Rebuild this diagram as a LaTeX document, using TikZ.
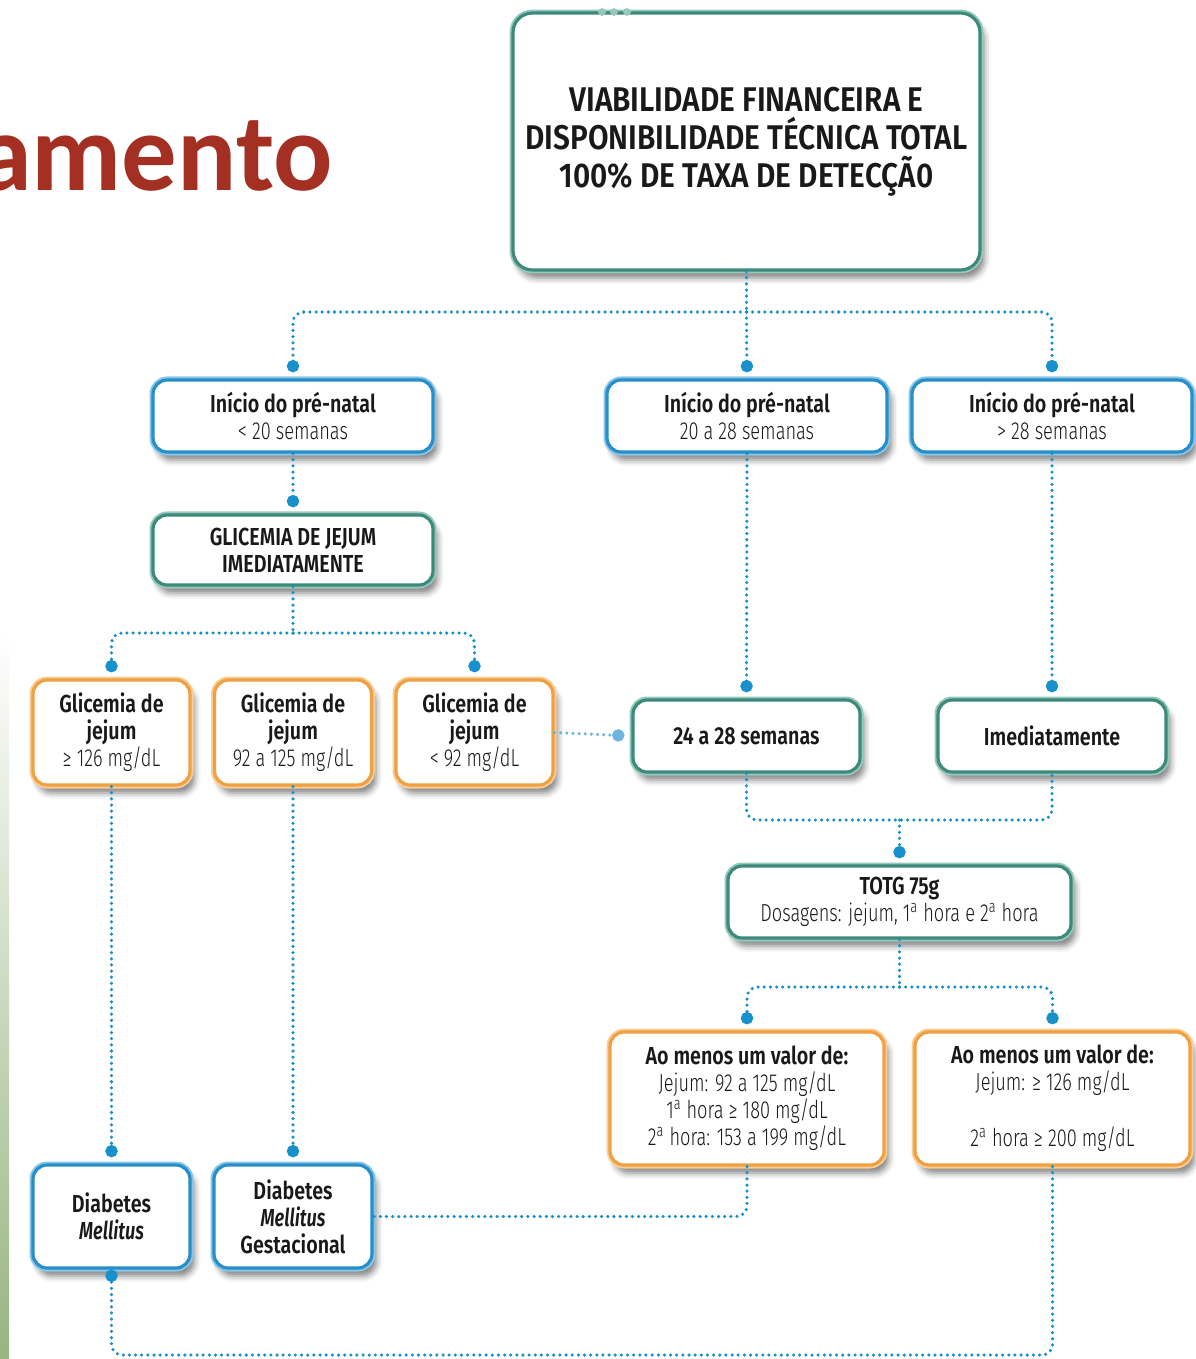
\documentclass[tikz,border=0pt]{standalone}
\usepackage{fontspec}
\IfFontExistsTF{Fira Sans SemiBold}
  {\setmainfont[UprightFont={Fira Sans Light}, BoldFont={Fira Sans SemiBold}, ItalicFont={Fira Sans Light Italic},
     BoldItalicFont={Fira Sans SemiBold Italic}, FakeStretch=0.74, BoldFeatures={FakeStretch=0.8}]{Fira Sans}
   \newfontfamily\headfont[BoldFont={Fira Sans SemiBold}, BoldFeatures={FakeStretch=0.87}]{Fira Sans}}
  {\setmainfont[FakeStretch=0.73, BoldFeatures={FakeStretch=0.78}]{Fira Sans}
   \newfontfamily\headfont[FakeStretch=0.85]{Fira Sans}}
\newfontfamily\titlefont{Carlito}
\usepackage{tikz}
\definecolor{tealLine}{RGB}{62,138,122}
\definecolor{tealLight}{RGB}{150,200,188}
\definecolor{blueLine}{RGB}{38,142,200}
\definecolor{blueLight}{RGB}{140,198,230}
\definecolor{orangeLine}{RGB}{240,160,64}
\definecolor{orangeLight}{RGB}{248,206,150}
\definecolor{dotBlue}{RGB}{24,144,204}
\definecolor{paleBlue}{RGB}{110,180,225}
\definecolor{titleRed}{RGB}{163,48,35}
\definecolor{barGreen}{RGB}{152,180,130}
\definecolor{inkGray}{RGB}{25,25,25}
\usetikzlibrary{arrows.meta}
\usetikzlibrary{shadows.blur}

\tikzset{
  box/.style={rounded corners=8pt, fill=white, text=inkGray, align=center, inner sep=2pt,
    line width=1.8pt, font=\fontsize{14}{15.3}\selectfont,
    blur shadow={shadow xshift=2.5pt, shadow yshift=-4.5pt, shadow blur radius=3.5pt, shadow opacity=50}},
  tealbox/.style={box, draw=tealLine, preaction={draw=tealLight, line width=4pt}},
  bluebox/.style={box, draw=blueLine, preaction={draw=blueLight, line width=4pt}},
  orangebox/.style={box, draw=orangeLine, preaction={draw=orangeLight, line width=4pt}},
  conn/.style={dotBlue, line width=2pt, line cap=round, dash pattern=on 0pt off 3.5pt, rounded corners=6pt},
  dotend/.style={-{Circle[length=7pt]}, shorten >=3.5pt},
}
\newcommand{\ord}[1]{#1\textsuperscript{a}}

\begin{document}
\begin{tikzpicture}[x=0.02cm, y=-0.02cm]
    \useasboundingbox (0,0) rectangle (1196,1359);
    \shade[top color=white, bottom color=barGreen] (0,630) rectangle (9,1359);

    \node[anchor=base east, text=titleRed, font=\titlefont\bfseries\fontsize{63}{63}\selectfont] (title) at (339,190) {amento};

    \node[tealbox, minimum width=9.34cm, minimum height=5.14cm, rounded corners=11pt,
          font=\headfont\fontsize{19.5}{21.5}\selectfont\bfseries] (top) at (746.5,141.5)
          {VIABILIDADE FINANCEIRA E\\DISPONIBILIDADE TÉCNICA TOTAL\\100\% DE TAXA DE DETECÇÃ0};
    \fill[tealLight] (602,12) circle (2.2pt) (614,12) circle (2.2pt) (627,12) circle (2.2pt);

    \node[bluebox, minimum width=5.6cm, minimum height=1.44cm] (early) at (293,416) {\textbf{Início do pré-natal}\\< 20 semanas};
    \node[bluebox, minimum width=5.6cm, minimum height=1.44cm] (mid) at (747,416) {\textbf{Início do pré-natal}\\20 a 28 semanas};
    \node[bluebox, minimum width=5.6cm, minimum height=1.44cm] (late) at (1052,416) {\textbf{Início do pré-natal}\\> 28 semanas};

    \node[tealbox, minimum width=5.6cm, minimum height=1.4cm, font=\fontsize{14}{15.3}\selectfont\bfseries] (gj) at (293,550) {GLICEMIA DE JEJUM\\IMEDIATAMENTE};

    \node[orangebox, minimum width=3.14cm, minimum height=2.1cm] (gHigh) at (111.5,732.5) {\textbf{Glicemia de}\\\textbf{jejum}\\≥ 126 mg/dL};
    \node[orangebox, minimum width=3.14cm, minimum height=2.1cm] (gMid) at (293,732.5) {\textbf{Glicemia de}\\\textbf{jejum}\\92 a 125 mg/dL};
    \node[orangebox, minimum width=3.14cm, minimum height=2.1cm] (gLow) at (474.5,732.5) {\textbf{Glicemia de}\\\textbf{jejum}\\< 92 mg/dL};

    \node[tealbox, minimum width=4.54cm, minimum height=1.44cm, font=\fontsize{14}{15.3}\selectfont\bfseries] (wk) at (746.5,736) {24 a 28 semanas};
    \node[tealbox, minimum width=4.56cm, minimum height=1.44cm, font=\fontsize{14}{15.3}\selectfont\bfseries] (now) at (1052,736) {Imediatamente};

    \node[tealbox, minimum width=6.86cm, minimum height=1.44cm] (totg) at (899.5,902) {\textbf{TOTG 75g}\\Dosagens: jejum, \ord{1} hora e \ord{2} hora};

    \node[orangebox, minimum width=5.48cm, minimum height=2.66cm] (resA) at (747,1098.5)
          {\textbf{Ao menos um valor de:}\\Jejum: 92 a 125 mg/dL\\\ord{1} hora ≥ 180 mg/dL\\\ord{2} hora: 153 a 199 mg/dL};
    \node[orangebox, minimum width=5.5cm, minimum height=2.66cm] (resB) at (1052.5,1098.5)
          {\textbf{Ao menos um valor de:}\\Jejum: ≥ 126 mg/dL\\\strut\\\ord{2} hora ≥ 200 mg/dL};

    \node[bluebox, minimum width=3.14cm, minimum height=2.06cm] (dm) at (111.5,1216.5) {\textbf{Diabetes}\\\textbf{\itshape Mellitus}};
    \node[bluebox, minimum width=3.16cm, minimum height=2.06cm] (dmg) at (293,1216.5) {\textbf{Diabetes}\\\textbf{\itshape Mellitus}\\\textbf{Gestacional}};

    \coordinate (j1) at (746.5,312);
    \coordinate (j2) at (293,633);
    \coordinate (j3) at (899.5,820);
    \coordinate (j4) at (899.5,987);
    \coordinate (j5) at (111.5,1355);

    \draw[conn] (top.south) -- (j1);
    \draw[conn, dotend] (j1) -| (early.north);
    \draw[conn, dotend] (j1) -- (mid.north);
    \draw[conn, dotend] (j1) -| (late.north);

    \draw[conn, dotend] (early.south) -- (gj.north);
    \draw[conn] (gj.south) -- (j2);
    \draw[conn, dotend] (j2) -| (gHigh.north);
    \draw[conn, dotend] (j2) -| (gLow.north);

    \draw[conn, paleBlue, -{Circle[length=7pt]}, shorten >=4pt] (gLow.east) -- (wk.west);
    \draw[conn, dotend] (mid.south) -- (wk.north);
    \draw[conn, dotend] (late.south) -- (now.north);

    \draw[conn] (wk.south) |- (j3) -| (now.south);
    \draw[conn, dotend] (j3) -- (totg.north);
    \draw[conn] (totg.south) -- (j4);
    \draw[conn, dotend] (j4) -| (resA.north);
    \draw[conn, dotend] (j4) -| (resB.north);

    \draw[conn, dotend] (gHigh.south) -- (dm.north);
    \draw[conn, dotend] (gMid.south) -- (dmg.north);
    \draw[conn] (resA.south) |- (dmg.east);
    \draw[conn, -{Circle[length=7pt]}] (resB.south) |- (j5) -- (dm.south);
\end{tikzpicture}
\end{document}
